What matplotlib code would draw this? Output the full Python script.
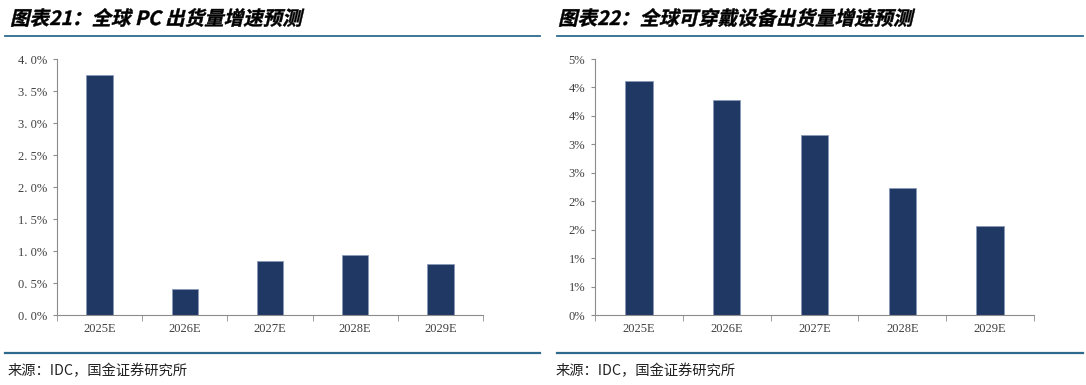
import numpy as np
import matplotlib
matplotlib.use('Agg')
import matplotlib.pyplot as plt
from matplotlib.ticker import FuncFormatter, MultipleLocator, FixedLocator
from matplotlib.lines import Line2D
from matplotlib.textpath import TextPath
from matplotlib.patches import PathPatch
from matplotlib.font_manager import FontProperties
from matplotlib.transforms import Affine2D

plt.rcParams['font.family'] = ['Noto Sans CJK SC', 'DejaVu Sans']

# Data
years = ['2025E', '2026E', '2027E', '2028E', '2029E']
pc_growth = [3.75, 0.40, 0.85, 0.93, 0.79]          # %
wearable_growth = [4.12, 3.78, 3.16, 2.24, 1.56]    # %

title_pc = '图表21：全球 PC 出货量增速预测'
title_wear = '图表22：全球可穿戴设备出货量增速预测'
source = '来源：IDC，国金证券研究所'

W, H = 1086, 385
fig = plt.figure(figsize=(W / 100, H / 100), dpi=100)

def px_axes(x0, y0, x1, y1):
    return fig.add_axes([x0 / W, 1 - y1 / H, (x1 - x0) / W, (y1 - y0) / H])

bar_color = '#1f3864'
spine_color = '#8c8c8c'
tick_font = dict(family='Liberation Serif', size=9, color='#404040')

def draw_bars(ax, values, ymax, step, fmt):
    x = np.arange(len(years))
    ax.bar(x, values, width=0.31, color=bar_color, edgecolor='#8a9ab8', linewidth=0.6)
    ax.set_xlim(-0.5, len(years) - 0.5)
    ax.set_ylim(0, ymax)
    ax.yaxis.set_major_locator(MultipleLocator(step))
    ax.yaxis.set_major_formatter(FuncFormatter(fmt))
    ax.set_xticks(x)
    ax.set_xticklabels(years)
    ax.xaxis.set_minor_locator(FixedLocator(np.arange(-0.5, len(years), 1.0)))
    ax.tick_params(axis='x', which='major', length=0, pad=6)
    ax.tick_params(axis='x', which='minor', length=4, color=spine_color, direction='out')
    ax.tick_params(axis='y', length=3, color=spine_color, direction='out', pad=4)
    for lab in ax.get_xticklabels() + ax.get_yticklabels():
        lab.set_fontfamily(tick_font['family'])
        lab.set_fontsize(tick_font['size'])
        lab.set_color(tick_font['color'])
    for s in ['top', 'right']:
        ax.spines[s].set_visible(False)
    for s in ['left', 'bottom']:
        ax.spines[s].set_color(spine_color)
        ax.spines[s].set_linewidth(0.8)

def italic_title(text, x_px, y_px, size_px):
    # bold CJK font has no italic face, so slant the glyph outlines
    prop = FontProperties(family='Noto Sans CJK SC', weight='bold')
    tp = TextPath((0, 0), text, size=size_px, prop=prop)
    tr = Affine2D().skew_deg(13, 0).translate(x_px, H - y_px)
    fig.add_artist(PathPatch(tr.transform_path(tp), transform=None,
                             facecolor='black', edgecolor='black', linewidth=0.3))

# Left chart: PC
ax1 = px_axes(57, 59, 483, 315)
draw_bars(ax1, pc_growth, 4.0, 0.5, lambda v, p: f'{v:.1f}%'.replace('.', '. '))

# Right chart: wearables (Excel-style rounding of 0.5 steps)
ax2 = px_axes(595, 59, 1034, 315)
draw_bars(ax2, wearable_growth, 4.5, 0.5, lambda v, p: f'{int(np.floor(v + 0.5 + 1e-9))}%')

# Titles, rules and sources
line_color = '#2e6a8e'
for x0, x1, tx, title in [(5, 540, 10, title_pc), (557, 1083, 558, title_wear)]:
    italic_title(title, tx, 25, 19.5)
    fig.add_artist(Line2D([x0 / W, x1 / W], [1 - 36 / H, 1 - 36 / H],
                          color=line_color, linewidth=1.3))
    fig.add_artist(Line2D([x0 / W, x1 / W], [1 - 353 / H, 1 - 353 / H],
                          color=line_color, linewidth=1.6))
    fig.text((tx - 2) / W, 1 - 371 / H, source, fontsize=10.3, color='#222222',
             va='center', ha='left')

fig.savefig('out.png', dpi=100)
